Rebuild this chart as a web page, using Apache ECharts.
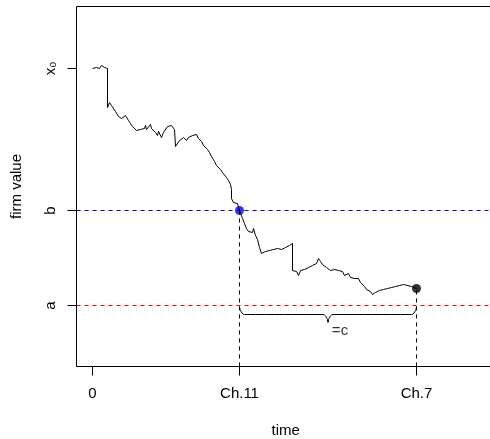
<!DOCTYPE html>
<html>
<head>
<meta charset="utf-8">
<script src="https://cdn.jsdelivr.net/npm/echarts@6/dist/echarts.min.js"></script>
<style>
  html, body { margin: 0; padding: 0; background: #fff; }
  #chart { width: 490px; height: 439px; }
</style>
</head>
<body>
<div id="chart"></div>
<script>
  // firm value path (time step, value)
  const timeSteps = [0, 2, 4, 6, 7, 9, 10, 12, 14, 15, 15, 17, 19, 21, 23, 25, 26, 28, 29, 31,
    33, 34, 36, 38, 40, 42, 44, 46, 48, 50, 52, 53, 54, 56, 58, 59, 61, 63, 65, 66,
    68, 69, 71, 73, 75, 77, 79, 81, 82, 83, 85, 87, 89, 91, 93, 94, 96, 98, 100, 102,
    104, 106, 107, 109, 111, 113, 115, 117, 119, 120, 122, 124, 126, 128, 130, 132, 134, 136, 138, 139,
    139, 141, 143, 145, 147, 148, 150, 152, 154, 156, 158, 160, 161, 163, 165, 167, 169, 171, 173, 175,
    177, 179, 181, 183, 185, 187, 189, 191, 193, 195, 197, 199, 200, 200, 202, 204, 206, 208, 210, 212,
    214, 216, 218, 220, 222, 224, 226, 228, 230, 232, 234, 236, 238, 240, 242, 244, 246, 248, 250, 252,
    254, 256, 258, 260, 262, 264, 266, 268, 270, 272, 274, 276, 278, 280, 282, 283, 285, 287, 289, 291,
    293, 295, 297, 299, 301, 303, 305, 307, 309, 311, 313, 315, 317, 319, 321, 324]
  const firmValue = [298, 297, 299, 300, 298, 301, 302, 299, 298, 298, 259, 264, 261, 259, 255, 254, 250, 252, 248, 249,
    251, 249, 246, 243, 240, 238, 236, 235, 237, 236, 238, 241, 237, 239, 242, 238, 236, 234, 231, 235,
    233, 229, 234, 236, 240, 241, 241, 240, 237, 220, 222, 226, 225, 229, 230, 226, 229, 228, 231, 230,
    232, 228, 227, 225, 221, 220, 217, 214, 210, 212, 205, 201, 199, 197, 194, 192, 189, 186, 182, 177,
    168, 164, 166, 163, 156, 154, 148, 143, 138, 135, 137, 134, 138, 131, 127, 119, 113, 112, 115, 113,
    116, 114, 117, 115, 118, 116, 117, 118, 119, 120, 121, 123, 123, 96, 94, 95, 91, 96, 94, 97,
    96, 99, 98, 101, 100, 103, 108, 105, 102, 101, 99, 101, 96, 94, 97, 95, 96, 94, 95, 91,
    89, 93, 89, 90, 88, 87, 88, 84, 86, 80, 77, 78, 75, 72, 70, 74, 72, 76, 74, 77,
    75, 78, 76, 79, 78, 80, 79, 81, 80, 82, 80, 81, 79, 80, 79, 78]

  // levels and event times
  const levelX0 = 298
  const levelB = 156
  const levelA = 61
  const tCh11 = 147
  const tCh7 = 324

  const xTickValues = [0, tCh11, tCh7]
  const xTickLabels = ['0', 'Ch.11', 'Ch.7']
  const yTickValues = [levelA, levelB, levelX0]
  const yTickLabels = ['a', 'b', 'x₀']

  const xMin = -16, xMax = 402.5
  const pathData = timeSteps.map((t, i) => [t, firmValue[i]])
  const endValue = firmValue[firmValue.length - 1]

  // curly brace between Ch.11 and Ch.7
  const braceTop = levelA - 1
  const braceMid = braceTop - 8
  const braceTip = braceMid - 8
  const braceCenter = (tCh11 + tCh7) / 2
  const braceData = [
    [tCh11, braceTop], [tCh11 + 1, braceMid + 4], [tCh11 + 5, braceMid],
    [braceCenter - 5, braceMid], [braceCenter - 1, braceMid - 4], [braceCenter, braceTip],
    [braceCenter + 1, braceMid - 4], [braceCenter + 5, braceMid],
    [tCh7 - 5, braceMid], [tCh7 - 1, braceMid + 4], [tCh7, braceTop]
  ]

  const font = 'Liberation Sans, Arial, sans-serif'
  const fs = 15
  const dashed = (name, data, color) => ({
    name: name,
    type: 'line',
    data: data,
    symbol: 'none',
    silent: true,
    lineStyle: { color: color, type: [4, 4], width: 1 }
  })

  const chart = echarts.init(document.getElementById('chart'))
  chart.setOption({
    backgroundColor: '#fff',
    animation: false,
    grid: {
      left: 76.5,
      right: -5,
      top: 6.5,
      bottom: 72.5,
      show: true,
      borderColor: '#000',
      borderWidth: 1,
      containLabel: false,
      outerBoundsMode: 'none'
    },
    xAxis: {
      type: 'value',
      min: xMin,
      max: xMax,
      name: 'time',
      nameLocation: 'middle',
      nameGap: 57,
      nameTextStyle: { color: '#000', fontSize: fs, fontFamily: font },
      axisLine: { show: false, onZero: false },
      splitLine: { show: false },
      axisTick: {
        show: true,
        customValues: xTickValues,
        length: 9,
        lineStyle: { color: '#000' }
      },
      axisLabel: {
        customValues: xTickValues,
        margin: 20,
        color: '#000',
        fontSize: fs,
        fontFamily: font,
        formatter: v => xTickLabels[xTickValues.indexOf(v)]
      }
    },
    yAxis: {
      type: 'value',
      min: 0,
      max: 360,
      name: 'firm value',
      nameLocation: 'middle',
      nameGap: 52,
      nameRotate: 90,
      nameTextStyle: { color: '#000', fontSize: fs, fontFamily: font },
      axisLine: { show: false, onZero: false },
      splitLine: { show: false },
      axisTick: {
        show: true,
        customValues: yTickValues,
        length: 9,
        lineStyle: { color: '#000' }
      },
      axisLabel: {
        customValues: yTickValues,
        rotate: 90,
        margin: 18,
        color: '#000',
        fontSize: fs,
        fontFamily: font,
        formatter: v => yTickLabels[yTickValues.indexOf(v)]
      }
    },
    series: [
      dashed('b', [[xMin, levelB], [xMax, levelB]], '#0000ff'),
      dashed('a', [[xMin, levelA], [xMax, levelA]], '#ff0000'),
      {
        name: 'path',
        type: 'line',
        data: pathData,
        symbol: 'none',
        lineStyle: { color: '#000', width: 1 }
      },
      dashed('ch11', [[tCh11, 0], [tCh11, levelB]], '#000'),
      dashed('ch7', [[tCh7, 0], [tCh7, endValue]], '#000'),
      {
        name: 'brace',
        type: 'line',
        data: braceData,
        symbol: 'none',
        smooth: 0.4,
        lineStyle: { color: '#000', width: 1 }
      }, {
        name: 'label',
        type: 'scatter',
        data: [[braceCenter + 12, braceTip - 8]],
        symbolSize: 0,
        label: {
          show: true,
          position: 'inside',
          formatter: '=c',
          color: '#000',
          fontSize: fs,
          fontFamily: font
        }
      }, {
        name: 'dots',
        type: 'scatter',
        data: [
          { value: [tCh11, levelB], itemStyle: { color: '#0000ff' } },
          { value: [tCh7, endValue], itemStyle: { color: '#000' } }
        ],
        symbol: 'circle',
        symbolSize: 9
      }
    ]
  })
</script>
</body>
</html>
